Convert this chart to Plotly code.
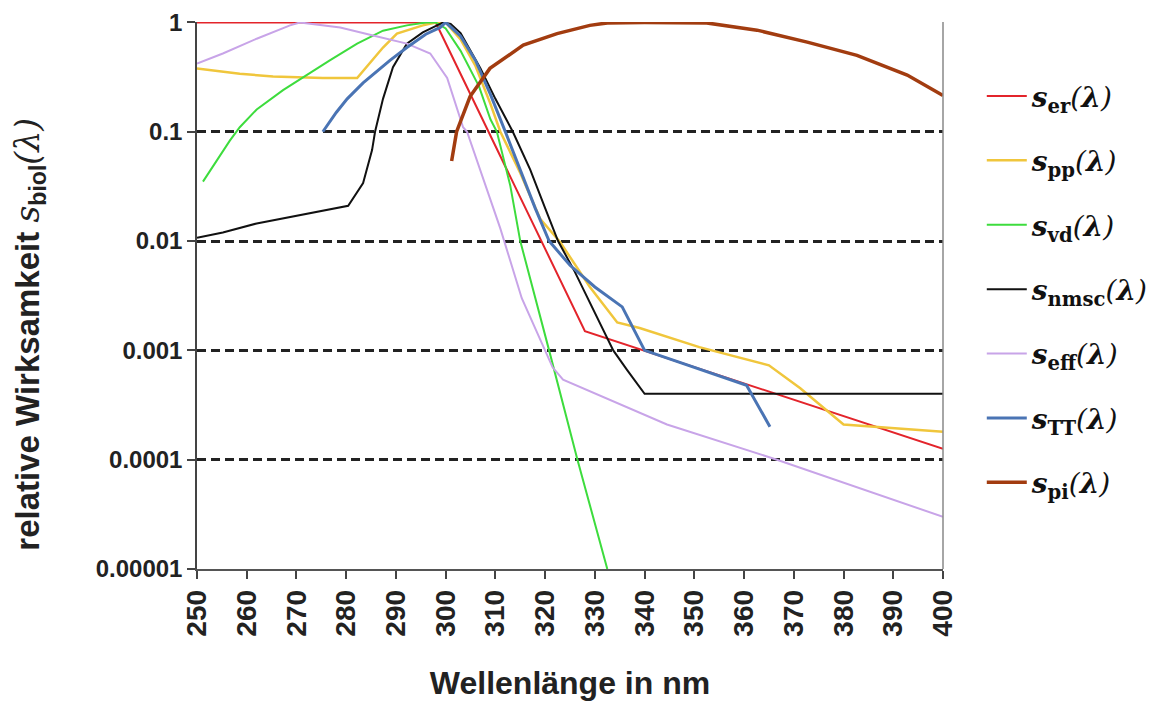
import plotly.graph_objects as go

# Wellenlängen (nm) und relative Wirksamkeit der einzelnen Wirkungsspektren
er_wl = [250, 298, 328, 400]
er_val = [1, 1, 0.0015, 0.000126]

pp_wl = [250, 258.6, 265.3, 275.3, 282.2, 287.4, 290.2, 295.4, 298, 300, 303, 306, 309, 311,
         315, 319, 323, 329, 334.5, 339, 351, 365, 371.3, 380, 400]
pp_val = [0.38, 0.34, 0.32, 0.31, 0.31, 0.59, 0.79, 0.94, 1, 1, 0.7, 0.4, 0.18, 0.1,
          0.042, 0.016, 0.0098, 0.0038, 0.0018, 0.0016, 0.00107, 0.00073, 0.00045, 0.00021, 0.00018]

vd_wl = [251.2, 254, 256.6, 258.6, 262, 267.3, 272, 276.7, 282.2, 287.4, 292.2, 296, 298,
         300, 303, 306.7, 309, 310.3, 313, 315, 320.8, 326.5, 332.5]
vd_val = [0.035, 0.055, 0.083, 0.11, 0.16, 0.24, 0.33, 0.45, 0.64, 0.84, 0.94, 1, 1,
          0.88, 0.55, 0.26, 0.13, 0.1, 0.032, 0.01, 0.001, 0.0001, 0.00001]

nmsc_wl = [250, 255.2, 262, 268.7, 275.3, 280.4, 283.4, 285.2, 285.8, 287.4, 289.4, 292.2,
           295.4, 299.5, 301, 303, 307, 310, 313.5, 317, 320, 322.6, 326, 329, 333.7, 336.5, 340, 400]
nmsc_val = [0.0107, 0.012, 0.0145, 0.0166, 0.019, 0.021, 0.034, 0.068, 0.1, 0.2, 0.39, 0.64,
            0.81, 1, 0.97, 0.8, 0.38, 0.2, 0.1, 0.045, 0.02, 0.01, 0.0052, 0.0027, 0.001, 0.00066,
            0.0004, 0.0004]

eff_wl = [250, 255.2, 262, 268.7, 270.7, 278.8, 285.4, 292.2, 296.9, 300.3, 303.5, 304.3, 311,
          315.3, 321.5, 323.6, 344.5, 366.6, 400]
eff_val = [0.42, 0.52, 0.71, 0.94, 1, 0.9, 0.76, 0.64, 0.52, 0.31, 0.11, 0.1, 0.013,
           0.003, 0.0007, 0.00054, 0.00021, 0.0001, 0.00003]

tt_wl = [275.3, 278, 280.2, 283.4, 288.8, 292.2, 296, 298.9, 300, 303, 306, 309, 312, 315,
         318, 320.8, 325, 330, 335.5, 340, 350, 360.5, 365.2]
tt_val = [0.1, 0.15, 0.2, 0.28, 0.45, 0.59, 0.78, 0.9, 1, 0.75, 0.45, 0.22, 0.1, 0.045,
          0.02, 0.01, 0.006, 0.0038, 0.0025, 0.001, 0.0007, 0.00048, 0.0002]

pi_wl = [301.2, 302.2, 304.9, 308.9, 315.6, 322.4, 329, 332.5, 340, 352.5, 362.6, 372.7,
         382.7, 392.8, 400]
pi_val = [0.054, 0.1, 0.21, 0.38, 0.62, 0.79, 0.94, 0.99, 1, 0.99, 0.85, 0.66,
          0.5, 0.33, 0.215]

y_tickvals = [1, 0.1, 0.01, 0.001, 0.0001, 0.00001]
y_ticktext = ["1", "0.1", "0.01", "0.001", "0.0001", "0.00001"]
x_tickvals = list(range(250, 401, 10))

y_title = ("<b>relative Wirksamkeit </b><i><span style='font-family:DejaVu Serif'>s</span></i>"
           "<sub><b>biol</b></sub><span style='font-family:DejaVu Serif'><i>(λ)</i></span>")


def label(sub):
    return ("<b><i>s</i></b><sub><b>%s</b></sub><i>(<b>λ</b>)</i>" % sub)


series = [
    (er_wl, er_val, label("er"), "#e3242b", 2),
    (pp_wl, pp_val, label("pp"), "#f0c63c", 2.5),
    (vd_wl, vd_val, label("vd"), "#3ddc3d", 2),
    (nmsc_wl, nmsc_val, label("nmsc"), "#111111", 2),
    (eff_wl, eff_val, label("eff"), "#c8a4e8", 2),
    (tt_wl, tt_val, label("TT"), "#4a74b4", 3),
    (pi_wl, pi_val, label("pi"), "#a23c10", 3.5),
]

fig = go.Figure()
for i, (wl, val, name, color, width) in enumerate(series):
    fig.add_trace(go.Scatter(
        x=wl, y=val, mode="lines", name=name, legendgroup="g%d" % i,
        line=dict(color=color, width=width),
    ))

fig.update_layout(
    width=1161, height=701,
    margin=dict(l=197, r=218, t=22, b=132, autoexpand=False),
    paper_bgcolor="white", plot_bgcolor="white",
    showlegend=True,
    legend=dict(
        x=1.052, y=0.91, xanchor="left", yanchor="top",
        font=dict(family="DejaVu Serif", size=28, color="#111"),
        tracegroupgap=25, itemwidth=40, bgcolor="rgba(0,0,0,0)",
    ),
)

fig.update_xaxes(
    range=[250, 400], tickvals=x_tickvals, tickangle=-90,
    ticks="outside", ticklen=8, tickcolor="#444", tickwidth=1.5,
    showline=True, linecolor="#555", linewidth=1.5, showgrid=False,
    tickfont=dict(family="Arial", size=28, color="#222", weight="bold"),
    title=dict(text="<b>Wellenlänge in nm</b>", standoff=36,
               font=dict(family="Arial", size=32, color="#222")),
    mirror=False,
)
fig.update_yaxes(
    type="log", range=[-5, 0.004], tickvals=y_tickvals, ticktext=y_ticktext,
    ticks="outside", ticklen=8, tickcolor="#444", tickwidth=1.5,
    showline=True, linecolor="#444", linewidth=1.5,
    showgrid=True, gridcolor="#222", gridwidth=2.5, griddash="9px,5px",
    tickfont=dict(family="Arial", size=24, color="#222", weight="bold"),
)

# Achsentitel der y-Achse, senkrecht links neben den Beschriftungen
fig.add_annotation(
    text=y_title, textangle=-90, xref="paper", yref="paper",
    x=-0.224, y=0.43, xanchor="center", yanchor="middle", showarrow=False,
    font=dict(family="Arial", size=33, color="#222"),
)

# rechter Rand des Diagrammbereichs
fig.add_shape(type="line", xref="paper", yref="paper", x0=1, x1=1, y0=0, y1=1,
              line=dict(color="#888", width=1.5))

fig.write_html("out.html")
